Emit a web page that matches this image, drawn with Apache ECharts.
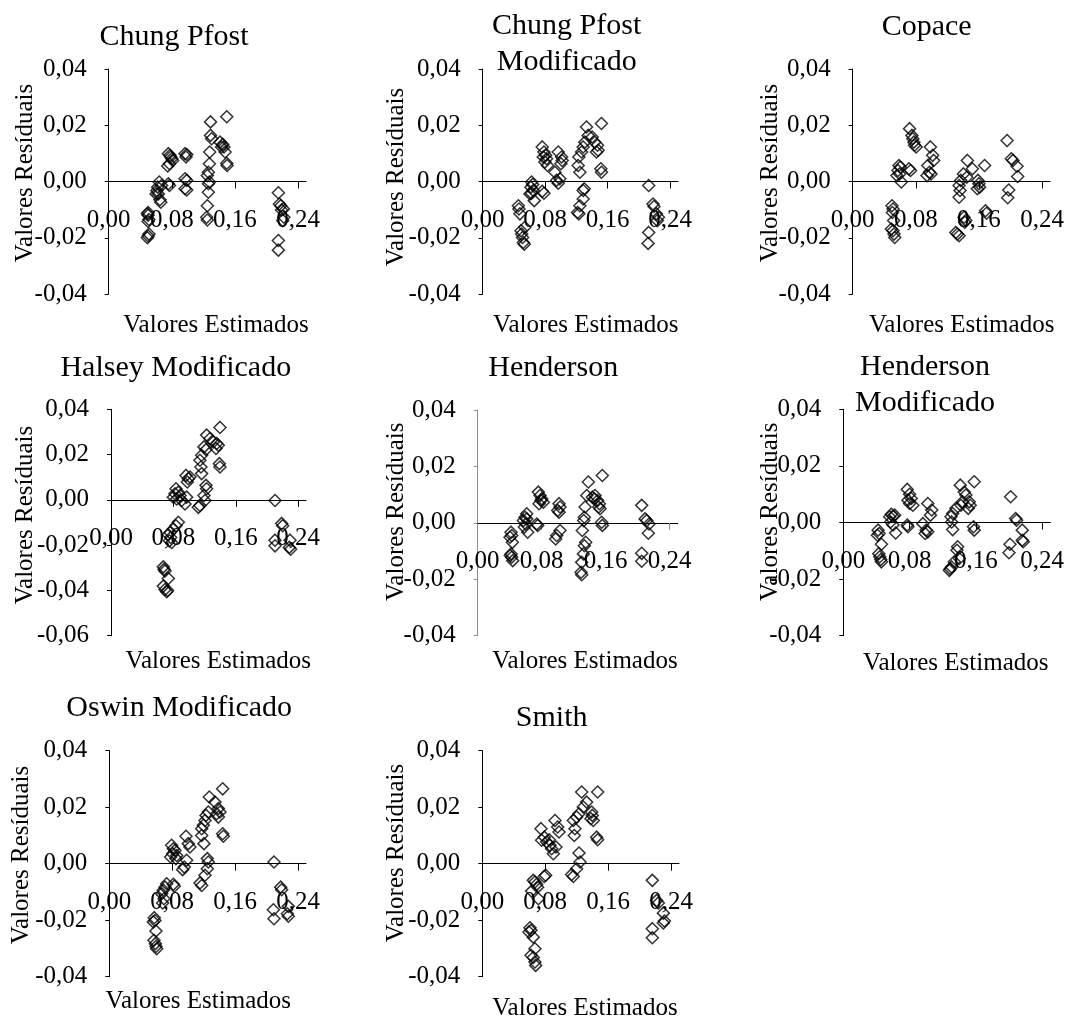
<!DOCTYPE html>
<html>
<head>
<meta charset="utf-8">
<script src="https://cdn.jsdelivr.net/npm/echarts@6/dist/echarts.min.js"></script>
<style>
html,body{margin:0;padding:0;background:#fff;}
#chart{width:1067px;height:1018px;}
</style>
</head>
<body>
<div id="chart"></div>
<script>
// ---- Panel names ----
const panelTitles = ['Chung Pfost', 'Chung Pfost\nModificado', 'Copace', 'Halsey Modificado',
  'Henderson', 'Henderson\nModificado', 'Oswin Modificado', 'Smith'];
const xAxisName = 'Valores Estimados';
const yAxisName = 'Valores Resíduais';

// ---- Tick values ----
const xTickValues = [0, 0.08, 0.16, 0.24];
const xMax = 0.25;
const yTickStep = 0.02;
const yRangeDefault = [-0.04, 0.04];
const yRangeHalsey = [-0.06, 0.04];

// ---- Data: estimated values (x) and residuals (y) ----
const chungPfostX = [0.050,0.049,0.050,0.051,0.050,0.051,0.050,0.049,
  0.061,0.063,0.065,0.066,0.064,0.067,0.062,0.060,0.0756,0.077,
  0.0756,0.0777,0.080,0.077,0.0748,0.0786,0.081,
  0.0967,0.0989,0.098,0.0967,0.0989,0.0967,0.0989,
  0.129,0.129,0.1305,0.128,0.1276,0.1263,0.125,0.1276,0.1263,0.1263,0.125,0.1242,0.125,
  0.1496,0.141,0.1445,0.146,0.1475,0.143,0.1496,0.150,
  0.215,0.2163,0.218,0.2214,0.222,0.2205,0.215,0.215,0.219];
const chungPfostY = [-0.011,-0.0115,-0.012,-0.0135,-0.0142,-0.0187,-0.0194,-0.020,
  -0.0032,-0.0044,-0.0065,-0.0074,-0.0002,-0.0014,-0.002,-0.0044,-0.0008,-0.0014,
  0.0099,0.0093,0.0081,0.0063,0.0055,0.0087,0.0075,
  0.0099,0.0096,0.0087,0.001,0.0004,-0.0026,-0.003,
  0.0212,0.0164,0.0152,0.0105,0.0063,0.0033,0.0021,-0.0002,-0.0008,-0.0038,-0.0086,-0.0127,-0.0137,
  0.023,0.014,0.0132,0.0123,0.0105,0.0123,0.0065,0.0057,
  -0.004,-0.008,-0.0086,-0.0098,-0.0127,-0.0139,-0.021,-0.0244,-0.0101];

const chungPfostModX = [0.0456,0.0464,0.0477,0.049,0.0498,0.052,0.0532,0.051,0.054,
  0.0626,0.0639,0.0617,0.0647,0.0626,0.066,0.0605,
  0.0762,0.0784,0.0805,0.0818,0.0796,0.083,0.0775,0.0762,0.0784,
  0.0967,0.101,0.1018,0.1001,0.0924,0.0945,0.0967,0.0988,
  0.1329,0.135,0.1307,0.1286,0.1265,0.1231,0.1222,0.1244,0.1299,0.1286,0.1286,0.1244,0.1214,0.1231,
  0.152,0.1401,0.1435,0.147,0.1478,0.1456,0.1512,0.152,
  0.2125,0.218,0.2193,0.2223,0.2236,0.2125,0.2117,0.225];
const chungPfostModY = [-0.0086,-0.0098,-0.0115,-0.0175,-0.0187,-0.0217,-0.0223,-0.0199,-0.0163,
  -0.0002,-0.0011,-0.002,-0.0032,-0.0042,-0.0068,-0.0044,
  0.0123,0.0105,0.0093,0.0081,0.0069,0.0057,0.0087,-0.0035,-0.0042,
  0.0105,0.0087,0.0075,0.0063,0.0033,0.0004,-0.0006,0.001,
  0.0194,0.0164,0.014,0.0123,0.0105,0.0087,0.0057,0.0033,-0.0026,-0.0032,-0.0062,-0.0086,-0.011,-0.0115,
  0.0206,0.0158,0.014,0.0129,0.0111,0.0105,0.0045,0.0033,
  -0.0014,-0.008,-0.0089,-0.0115,-0.0139,-0.0181,-0.022,-0.0127];

const copaceX = [0.0498,0.0511,0.0503,0.049,0.0511,0.0523,0.0532,0.0519,
  0.0586,0.0603,0.0574,0.0561,0.0616,0.0595,
  0.072,0.075,0.0762,0.0775,0.0783,0.0804,0.0712,0.0733,
  0.0984,0.1013,0.1026,0.0951,0.0972,0.0942,0.0992,
  0.1453,0.1516,0.1403,0.1369,0.1348,0.136,0.1348,0.1411,0.1432,0.142,0.1307,0.1327,0.1348,0.1445,
  0.1671,0.1587,0.1599,0.1608,0.1579,0.1683,0.1696,
  0.1956,0.201,0.2031,0.2082,0.209,0.1977,0.1964];
const copaceY = [-0.0086,-0.0098,-0.011,-0.0169,-0.0175,-0.0187,-0.0199,-0.0139,
  0.0057,0.0051,0.0039,0.0021,-0.0002,0.0027,
  0.0188,0.0164,0.0152,0.014,0.0129,0.0123,0.0045,0.0039,
  0.0123,0.0093,0.0075,0.0057,0.0033,0.0021,0.0027,
  0.0075,0.0045,0.0027,0.0004,-0.0014,-0.0032,-0.0056,-0.0127,-0.0139,-0.0145,-0.0181,-0.0187,-0.0193,0.0015,
  0.0057,0.0004,-0.0008,-0.002,-0.0026,-0.0104,-0.0113,
  0.0146,0.0081,0.0075,0.0054,0.0018,-0.003,-0.0058];

const halseyModX = [0.0863,0.0833,0.0799,0.0756,0.0735,0.0765,0.0778,0.0748,
  0.0671,0.0692,0.068,0.0735,0.0671,0.0692,0.0714,0.0726,
  0.0833,0.082,0.0799,0.0842,0.0863,0.0885,0.0906,0.0949,0.097,
  0.0962,0.0991,0.0979,0.1013,
  0.1226,0.1269,0.1192,0.1218,0.1162,0.114,0.1153,0.1162,0.1218,0.1226,0.1192,0.114,0.112,0.1205,
  0.1397,0.1355,0.1346,0.1376,0.1312,0.1389,0.1397,
  0.2103,0.2188,0.2201,0.2103,0.2103,0.2295,0.2303,0.2286];
const halseyModY = [-0.0099,-0.0114,-0.0129,-0.0144,-0.0154,-0.0166,-0.0188,-0.0181,
  -0.0296,-0.0314,-0.0307,-0.0347,-0.0381,-0.0396,-0.0406,-0.040,
  0.0049,0.0027,0.0012,0.0004,0.0034,0.0019,-0.0003,-0.0018,0.0012,
  0.0108,0.0093,0.0079,0.0101,
  0.0286,0.0271,0.0234,0.0222,0.0197,0.0175,0.0145,0.0116,0.0064,0.0049,0.0019,-0.0025,-0.0033,-0.0003,
  0.032,0.0249,0.0227,0.0241,0.0256,0.016,0.0145,
  -0.0003,-0.0104,-0.0114,-0.0178,-0.0203,-0.0178,-0.0218,-0.021];

const hendersonX = [0.0417,0.0425,0.0404,0.0433,0.0417,0.0425,0.0438,0.0408,
  0.0613,0.0592,0.0571,0.060,0.0583,0.0625,0.0613,
  0.0758,0.0779,0.080,0.0821,0.0767,0.0792,0.0738,0.075,
  0.1017,0.1029,0.100,0.1017,0.1029,0.0988,0.0975,
  0.1383,0.1363,0.1342,0.1333,0.1325,0.1308,0.135,0.1333,0.1321,0.130,0.1292,0.130,
  0.1558,0.1433,0.1467,0.150,0.1521,0.1513,0.1529,0.155,0.1558,0.1458,
  0.205,0.2092,0.2113,0.2142,0.2133,0.205,0.205];
const hendersonY = [-0.0033,-0.0045,-0.0051,-0.0069,-0.011,-0.0122,-0.0134,-0.0116,
  0.0032,0.002,0.0008,-0.0004,-0.0015,-0.0033,0.0014,
  0.0109,0.0097,0.0085,0.0073,0.0068,0.0079,-0.0004,-0.0009,
  0.0068,0.0056,0.0044,0.0038,-0.0027,-0.0045,-0.0057,
  0.0145,0.0097,0.0056,0.002,0.0008,-0.0027,-0.0069,-0.0081,-0.011,-0.014,-0.0175,-0.0184,
  0.0168,0.0091,0.0097,0.0079,0.0068,0.0056,0.005,0.0002,-0.0009,0.0085,
  0.0062,0.0014,0.0008,-0.0004,-0.0037,-0.0108,-0.0136];

const hendersonModX = [0.042,0.0432,0.0412,0.046,0.0428,0.044,0.0452,0.046,
  0.058,0.060,0.056,0.062,0.0572,0.060,0.0632,
  0.0772,0.080,0.082,0.080,0.084,0.078,0.0772,0.078,
  0.102,0.1068,0.1052,0.096,0.100,0.0988,0.102,
  0.1412,0.146,0.148,0.144,0.142,0.136,0.132,0.130,0.1308,0.132,0.138,0.1372,0.140,0.134,0.1292,0.128,0.1308,
  0.158,0.152,0.1532,0.1508,0.1572,0.158,
  0.202,0.208,0.2092,0.216,0.216,0.2172,0.2012,0.200];
const hendersonModY = [-0.0027,-0.0039,-0.0045,-0.0077,-0.011,-0.0121,-0.0131,-0.0139,
  0.0029,0.0022,0.002,0.0026,0.0002,-0.0009,-0.0037,
  0.0117,0.010,0.0085,0.0067,0.0061,0.0079,-0.0009,-0.0015,
  0.0067,0.0044,0.0026,-0.0004,-0.0027,-0.0039,-0.0033,
  0.0132,0.0108,0.0097,0.0073,0.0061,0.005,0.0032,0.002,0.0002,-0.0025,-0.0086,-0.0098,-0.0127,-0.0139,-0.0163,-0.0169,-0.0157,
  0.0144,0.0073,0.0061,0.005,-0.0015,-0.0027,
  0.0091,0.0014,0.0008,-0.0027,-0.0063,-0.0068,-0.0077,-0.0107];

const oswinModX = [0.0572,0.058,0.0559,0.0593,0.0568,0.0585,0.0593,0.0602,
  0.0729,0.0708,0.0686,0.0665,0.0695,0.0678,0.0814,0.0826,
  0.0792,0.0814,0.0835,0.0805,0.078,0.0856,0.0847,
  0.0975,0.1004,0.1025,0.0983,0.0953,0.0932,
  0.1271,0.1258,0.1229,0.1216,0.1195,0.1174,0.1174,0.1203,0.1246,0.1258,0.1246,0.1216,0.1153,0.1174,
  0.1441,0.1343,0.1386,0.1364,0.1407,0.1386,0.1441,0.1449,
  0.2093,0.2178,0.2191,0.2085,0.2093,0.2275,0.2275,0.2263];
const oswinModY = [-0.0191,-0.0201,-0.0206,-0.0238,-0.0271,-0.0283,-0.0293,-0.0301,
  -0.0071,-0.0083,-0.0094,-0.0106,-0.0124,-0.0139,-0.0073,-0.008,
  0.0065,0.0053,0.0047,0.0035,0.0024,0.0029,0.0018,
  0.0097,0.0071,0.0059,0.0012,-0.0012,-0.0021,
  0.0236,0.0183,0.0171,0.0153,0.0136,0.0124,0.010,0.0071,0.0018,0.0006,-0.0018,-0.0041,-0.0068,-0.0077,
  0.0265,0.0218,0.0195,0.0177,0.0183,0.0165,0.0106,0.0097,
  0.0006,-0.0083,-0.0092,-0.0163,-0.0195,-0.0151,-0.0186,-0.0177];

const smithX = [0.0606,0.0619,0.0593,0.0648,0.0669,0.0619,0.0648,0.0669,0.0678,
  0.0648,0.0669,0.0691,0.0703,0.0627,0.0712,0.0788,0.0805,
  0.0746,0.0754,0.0788,0.0818,0.086,0.0881,0.0903,0.0924,0.0958,0.0975,0.0936,0.0851,
  0.1263,0.1326,0.1284,0.1229,0.1199,0.1157,0.1178,0.1169,0.1229,0.1242,0.1199,0.1136,0.1157,
  0.1466,0.139,0.1398,0.1381,0.1411,0.1453,0.1466,
  0.2161,0.2216,0.2237,0.2301,0.2301,0.2314,0.2161,0.2161];
const smithY = [-0.0227,-0.0236,-0.0242,-0.026,-0.0301,-0.0324,-0.0332,-0.0348,-0.036,
  -0.0059,-0.0065,-0.0073,-0.0083,-0.0097,-0.0124,-0.0045,-0.0041,
  0.0124,0.0083,0.0094,0.0077,0.0065,0.0053,0.0035,0.0153,0.013,0.0112,0.0059,0.0085,
  0.0254,0.0218,0.0201,0.0177,0.0165,0.0153,0.0124,0.010,0.0038,0.0006,-0.0018,-0.0038,-0.0045,
  0.0254,0.0183,0.0171,0.0159,0.0153,0.0094,0.0085,
  -0.0059,-0.013,-0.0139,-0.0175,-0.021,-0.0203,-0.023,-0.0262];

const panelData = [
  [chungPfostX, chungPfostY], [chungPfostModX, chungPfostModY], [copaceX, copaceY],
  [halseyModX, halseyModY], [hendersonX, hendersonY], [hendersonModX, hendersonModY],
  [oswinModX, oswinModY], [smithX, smithY]
];
const panelYRange = [yRangeDefault, yRangeDefault, yRangeDefault, yRangeHalsey,
  yRangeDefault, yRangeDefault, yRangeDefault, yRangeDefault];

// ---- Layout (pixels) ----
const layout = [
  {l:108.7, t:69,    r:306,    b:294,   title:[174,37,36],    xn:[216,325],     yn:[25,173]},
  {l:482.7, t:69,    r:678,    b:294,   title:[566.7,44.5,36],xn:[585.8,325],   yn:[396.7,177]},
  {l:852.7, t:69,    r:1051.7, b:294,   title:[926.7,27,36],  xn:[961.7,325],   yn:[770,173]},
  {l:111,   t:409.3, r:306,    b:635.7, title:[175.8,368.3,36],xn:[218.3,661.7],yn:[25,515]},
  {l:477.7, t:410,   r:677.7,  b:635.7, title:[553.3,368.3,36],xn:[585,661.7],  yn:[396.7,511.7], gray:true},
  {l:843.3, t:409.3, r:1051.7, b:635.7, title:[925,385,36.6],xn:[955.8,663.3],  yn:[770,511.7]},
  {l:109.3, t:750.7, r:306,    b:976.7, title:[179.2,708.3,36],xn:[198.3,1001.7],yn:[21.7,855]},
  {l:482.3, t:750.7, r:679,    b:976.7, title:[551.7,718.3,36],xn:[585,1008.3], yn:[396.7,853]}
];

const FONT = '"Liberation Serif", "Times New Roman", serif';
const fmt = v => {
  const s = (Math.round(v * 100) / 100).toFixed(2).replace('.', ',');
  return s === '-0,00' ? '0,00' : s;
};

const grids = [], xAxes = [], yAxes = [], series = [], graphics = [];
layout.forEach((p, i) => {
  const h = p.b - p.t;
  grids.push({left: p.l, top: p.t, width: p.r - p.l, height: h, containLabel: false});
  const axColor = p.gray ? '#8c8c8c' : '#000';
  const yr = panelYRange[i];
  // distance from grid bottom to the zero line (labels are laid out from the grid edge)
  const zeroToBottom = h * (0 - yr[0]) / (yr[1] - yr[0]);
  xAxes.push({
    type: 'value', gridIndex: i, min: 0, max: xMax, interval: 0.08,
    splitLine: {show: false},
    axisLine: {show: true, onZero: true, lineStyle: {color: '#000', width: 1}},
    axisTick: {show: true, length: 7, customValues: xTickValues.slice(1), lineStyle: {color: axColor, width: 1}},
    axisLabel: {
      customValues: xTickValues, margin: 39 - zeroToBottom, verticalAlign: 'middle',
      fontFamily: FONT, fontSize: 25, color: '#000',
      formatter: v => (Math.abs(v / 0.08 - Math.round(v / 0.08)) < 1e-6 ? fmt(v) : '')
    }
  });
  yAxes.push({
    type: 'value', gridIndex: i, min: yr[0], max: yr[1], interval: yTickStep,
    splitLine: {show: false},
    axisLine: {show: true, onZero: false, lineStyle: {color: axColor, width: 1}},
    axisTick: {show: true, length: 4, lineStyle: {color: axColor, width: 1}},
    axisLabel: {margin: 22, fontFamily: FONT, fontSize: 25, color: '#000', formatter: v => fmt(v)}
  });
  const [xs, ys] = panelData[i];
  series.push({
    type: 'scatter', xAxisIndex: i, yAxisIndex: i,
    data: xs.map((x, k) => [x, ys[k]]),
    symbol: 'diamond', symbolSize: [12, 12],
    itemStyle: {color: 'rgba(0,0,0,0)', borderColor: '#000', borderWidth: 1.5},
    silent: true, z: 5
  });
  graphics.push({type: 'text', x: p.title[0], y: p.title[1],
    style: {text: panelTitles[i], font: '30px ' + FONT, fill: '#000', align: 'center', verticalAlign: 'middle', lineHeight: p.title[2]}});
  graphics.push({type: 'text', x: p.xn[0], y: p.xn[1],
    style: {text: xAxisName, font: '25px ' + FONT, fill: '#000', align: 'center', verticalAlign: 'middle'}});
  graphics.push({type: 'text', x: p.yn[0], y: p.yn[1], rotation: Math.PI / 2,
    style: {text: yAxisName, font: '25px ' + FONT, fill: '#000', align: 'center', verticalAlign: 'middle'}});
});

const chart = echarts.init(document.getElementById('chart'), null, {renderer: 'canvas'});
chart.setOption({
  animation: false,
  backgroundColor: '#fff',
  grid: grids, xAxis: xAxes, yAxis: yAxes, series: series,
  graphic: graphics
});
</script>
</body>
</html>
